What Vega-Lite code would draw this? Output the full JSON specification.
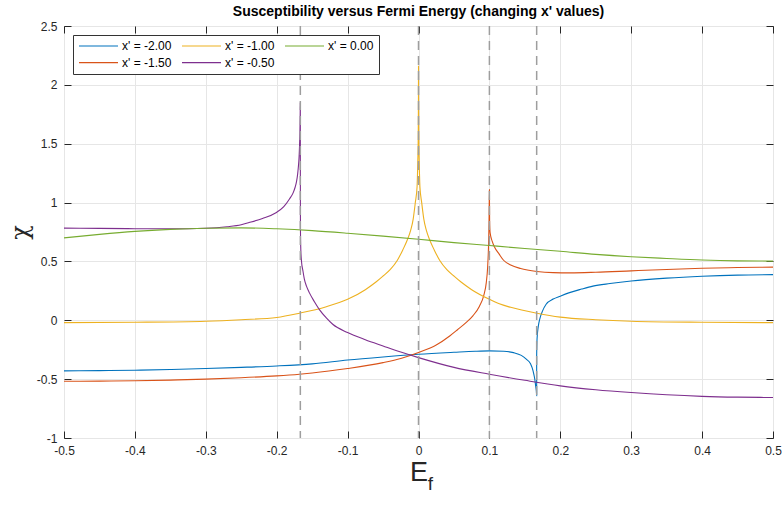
{
  "$schema": "https://vega.github.io/schema/vega-lite/v6.json",
  "width": 709,
  "height": 412,
  "autosize": "none",
  "padding": {"left": 64, "top": 26, "right": 11, "bottom": 69},
  "background": "white",
  "config": {
    "font": "Liberation Sans",
    "view": {"stroke": "#262626", "strokeWidth": 1}
  },
  "title": {"text": "Susceptibility versus Fermi Energy (changing x' values)", "fontSize": 14, "fontWeight": "bold", "color": "#000000", "font": "Liberation Sans", "offset": 1, "anchor": "middle"},
  "layer": [
    {
      "data": {"values": [
        {"s": "x' = -2.00", "x": -0.5, "y": -0.43},
        {"s": "x' = -2.00", "x": -0.45, "y": -0.428},
        {"s": "x' = -2.00", "x": -0.4, "y": -0.424},
        {"s": "x' = -2.00", "x": -0.35, "y": -0.418},
        {"s": "x' = -2.00", "x": -0.3, "y": -0.41},
        {"s": "x' = -2.00", "x": -0.25, "y": -0.4},
        {"s": "x' = -2.00", "x": -0.2, "y": -0.388},
        {"s": "x' = -2.00", "x": -0.15, "y": -0.37},
        {"s": "x' = -2.00", "x": -0.1, "y": -0.338},
        {"s": "x' = -2.00", "x": -0.05, "y": -0.312},
        {"s": "x' = -2.00", "x": 0, "y": -0.289},
        {"s": "x' = -2.00", "x": 0.05, "y": -0.272},
        {"s": "x' = -2.00", "x": 0.08, "y": -0.263},
        {"s": "x' = -2.00", "x": 0.1, "y": -0.26},
        {"s": "x' = -2.00", "x": 0.12, "y": -0.263},
        {"s": "x' = -2.00", "x": 0.134, "y": -0.275},
        {"s": "x' = -2.00", "x": 0.145, "y": -0.298},
        {"s": "x' = -2.00", "x": 0.152, "y": -0.33},
        {"s": "x' = -2.00", "x": 0.158, "y": -0.37},
        {"s": "x' = -2.00", "x": 0.1616, "y": -0.43},
        {"s": "x' = -2.00", "x": 0.164, "y": -0.5},
        {"s": "x' = -2.00", "x": 0.1653, "y": -0.56},
        {"s": "x' = -2.00", "x": 0.1662, "y": -0.6},
        {"s": "x' = -2.00", "x": 0.16667, "y": -0.64},
        {"s": "x' = -2.00", "x": 0.16668, "y": -0.3},
        {"s": "x' = -2.00", "x": 0.1672, "y": -0.16},
        {"s": "x' = -2.00", "x": 0.169, "y": -0.05},
        {"s": "x' = -2.00", "x": 0.171, "y": 0.01},
        {"s": "x' = -2.00", "x": 0.175, "y": 0.08},
        {"s": "x' = -2.00", "x": 0.18, "y": 0.136},
        {"s": "x' = -2.00", "x": 0.19, "y": 0.18},
        {"s": "x' = -2.00", "x": 0.2, "y": 0.205},
        {"s": "x' = -2.00", "x": 0.213, "y": 0.235},
        {"s": "x' = -2.00", "x": 0.23, "y": 0.265},
        {"s": "x' = -2.00", "x": 0.246, "y": 0.29},
        {"s": "x' = -2.00", "x": 0.27, "y": 0.312},
        {"s": "x' = -2.00", "x": 0.3, "y": 0.334},
        {"s": "x' = -2.00", "x": 0.35, "y": 0.358},
        {"s": "x' = -2.00", "x": 0.4, "y": 0.374},
        {"s": "x' = -2.00", "x": 0.45, "y": 0.384},
        {"s": "x' = -2.00", "x": 0.5, "y": 0.388},

        {"s": "x' = -1.50", "x": -0.5, "y": -0.518},
        {"s": "x' = -1.50", "x": -0.45, "y": -0.517},
        {"s": "x' = -1.50", "x": -0.4, "y": -0.514},
        {"s": "x' = -1.50", "x": -0.35, "y": -0.508},
        {"s": "x' = -1.50", "x": -0.3, "y": -0.5},
        {"s": "x' = -1.50", "x": -0.25, "y": -0.488},
        {"s": "x' = -1.50", "x": -0.2, "y": -0.472},
        {"s": "x' = -1.50", "x": -0.168, "y": -0.458},
        {"s": "x' = -1.50", "x": -0.15, "y": -0.448},
        {"s": "x' = -1.50", "x": -0.1, "y": -0.41},
        {"s": "x' = -1.50", "x": -0.05, "y": -0.36},
        {"s": "x' = -1.50", "x": -0.025, "y": -0.325},
        {"s": "x' = -1.50", "x": 0, "y": -0.274},
        {"s": "x' = -1.50", "x": 0.025, "y": -0.21},
        {"s": "x' = -1.50", "x": 0.044, "y": -0.133},
        {"s": "x' = -1.50", "x": 0.055, "y": -0.08},
        {"s": "x' = -1.50", "x": 0.067, "y": -0.02},
        {"s": "x' = -1.50", "x": 0.077, "y": 0.04},
        {"s": "x' = -1.50", "x": 0.086, "y": 0.12},
        {"s": "x' = -1.50", "x": 0.092, "y": 0.21},
        {"s": "x' = -1.50", "x": 0.0956, "y": 0.32},
        {"s": "x' = -1.50", "x": 0.0975, "y": 0.45},
        {"s": "x' = -1.50", "x": 0.0987, "y": 0.62},
        {"s": "x' = -1.50", "x": 0.0995, "y": 0.85},
        {"s": "x' = -1.50", "x": 0.1, "y": 1.11},
        {"s": "x' = -1.50", "x": 0.1003, "y": 0.85},
        {"s": "x' = -1.50", "x": 0.101, "y": 0.745},
        {"s": "x' = -1.50", "x": 0.104, "y": 0.67},
        {"s": "x' = -1.50", "x": 0.107, "y": 0.625},
        {"s": "x' = -1.50", "x": 0.114, "y": 0.56},
        {"s": "x' = -1.50", "x": 0.12, "y": 0.51},
        {"s": "x' = -1.50", "x": 0.13, "y": 0.47},
        {"s": "x' = -1.50", "x": 0.144, "y": 0.44},
        {"s": "x' = -1.50", "x": 0.167, "y": 0.415},
        {"s": "x' = -1.50", "x": 0.19, "y": 0.405},
        {"s": "x' = -1.50", "x": 0.214, "y": 0.403},
        {"s": "x' = -1.50", "x": 0.25, "y": 0.408},
        {"s": "x' = -1.50", "x": 0.3, "y": 0.42},
        {"s": "x' = -1.50", "x": 0.35, "y": 0.432},
        {"s": "x' = -1.50", "x": 0.4, "y": 0.442},
        {"s": "x' = -1.50", "x": 0.45, "y": 0.448},
        {"s": "x' = -1.50", "x": 0.5, "y": 0.452},

        {"s": "x' = -1.00", "x": -0.5, "y": -0.02},
        {"s": "x' = -1.00", "x": -0.4, "y": -0.017},
        {"s": "x' = -1.00", "x": -0.3, "y": -0.008},
        {"s": "x' = -1.00", "x": -0.25, "y": 0.005},
        {"s": "x' = -1.00", "x": -0.2, "y": 0.024},
        {"s": "x' = -1.00", "x": -0.168, "y": 0.06},
        {"s": "x' = -1.00", "x": -0.13, "y": 0.115},
        {"s": "x' = -1.00", "x": -0.1, "y": 0.178},
        {"s": "x' = -1.00", "x": -0.075, "y": 0.26},
        {"s": "x' = -1.00", "x": -0.06, "y": 0.325},
        {"s": "x' = -1.00", "x": -0.05, "y": 0.376},
        {"s": "x' = -1.00", "x": -0.04, "y": 0.43},
        {"s": "x' = -1.00", "x": -0.03, "y": 0.508},
        {"s": "x' = -1.00", "x": -0.022, "y": 0.6},
        {"s": "x' = -1.00", "x": -0.016, "y": 0.68},
        {"s": "x' = -1.00", "x": -0.011, "y": 0.765},
        {"s": "x' = -1.00", "x": -0.0075, "y": 0.86},
        {"s": "x' = -1.00", "x": -0.0045, "y": 1.0},
        {"s": "x' = -1.00", "x": -0.002, "y": 1.135},
        {"s": "x' = -1.00", "x": -0.001, "y": 1.35},
        {"s": "x' = -1.00", "x": -0.0004, "y": 1.55},
        {"s": "x' = -1.00", "x": -0.0001, "y": 1.85},
        {"s": "x' = -1.00", "x": 0, "y": 2.16},
        {"s": "x' = -1.00", "x": 0.0001, "y": 1.85},
        {"s": "x' = -1.00", "x": 0.0004, "y": 1.55},
        {"s": "x' = -1.00", "x": 0.001, "y": 1.35},
        {"s": "x' = -1.00", "x": 0.002, "y": 1.135},
        {"s": "x' = -1.00", "x": 0.0045, "y": 1.0},
        {"s": "x' = -1.00", "x": 0.0075, "y": 0.86},
        {"s": "x' = -1.00", "x": 0.011, "y": 0.765},
        {"s": "x' = -1.00", "x": 0.016, "y": 0.68},
        {"s": "x' = -1.00", "x": 0.022, "y": 0.6},
        {"s": "x' = -1.00", "x": 0.03, "y": 0.508},
        {"s": "x' = -1.00", "x": 0.04, "y": 0.43},
        {"s": "x' = -1.00", "x": 0.05, "y": 0.376},
        {"s": "x' = -1.00", "x": 0.06, "y": 0.325},
        {"s": "x' = -1.00", "x": 0.075, "y": 0.26},
        {"s": "x' = -1.00", "x": 0.1, "y": 0.178},
        {"s": "x' = -1.00", "x": 0.114, "y": 0.14},
        {"s": "x' = -1.00", "x": 0.13, "y": 0.11},
        {"s": "x' = -1.00", "x": 0.167, "y": 0.06},
        {"s": "x' = -1.00", "x": 0.2, "y": 0.027},
        {"s": "x' = -1.00", "x": 0.25, "y": 0.005},
        {"s": "x' = -1.00", "x": 0.3, "y": -0.008},
        {"s": "x' = -1.00", "x": 0.4, "y": -0.017},
        {"s": "x' = -1.00", "x": 0.5, "y": -0.02},

        {"s": "x' = -0.50", "x": -0.5, "y": 0.783},
        {"s": "x' = -0.50", "x": -0.45, "y": 0.781},
        {"s": "x' = -0.50", "x": -0.4, "y": 0.778},
        {"s": "x' = -0.50", "x": -0.35, "y": 0.777},
        {"s": "x' = -0.50", "x": -0.3, "y": 0.782},
        {"s": "x' = -0.50", "x": -0.27, "y": 0.795},
        {"s": "x' = -0.50", "x": -0.25, "y": 0.812},
        {"s": "x' = -0.50", "x": -0.239, "y": 0.83},
        {"s": "x' = -0.50", "x": -0.22, "y": 0.865},
        {"s": "x' = -0.50", "x": -0.201, "y": 0.914},
        {"s": "x' = -0.50", "x": -0.19, "y": 0.965},
        {"s": "x' = -0.50", "x": -0.182, "y": 1.03},
        {"s": "x' = -0.50", "x": -0.177, "y": 1.08},
        {"s": "x' = -0.50", "x": -0.174, "y": 1.13},
        {"s": "x' = -0.50", "x": -0.172, "y": 1.18},
        {"s": "x' = -0.50", "x": -0.1705, "y": 1.24},
        {"s": "x' = -0.50", "x": -0.1695, "y": 1.3},
        {"s": "x' = -0.50", "x": -0.1685, "y": 1.38},
        {"s": "x' = -0.50", "x": -0.1678, "y": 1.48},
        {"s": "x' = -0.50", "x": -0.1672, "y": 1.62},
        {"s": "x' = -0.50", "x": -0.1669, "y": 1.74},
        {"s": "x' = -0.50", "x": -0.16667, "y": 1.85},
        {"s": "x' = -0.50", "x": -0.16665, "y": 1.35},
        {"s": "x' = -0.50", "x": -0.1666, "y": 1.0},
        {"s": "x' = -0.50", "x": -0.1665, "y": 0.78},
        {"s": "x' = -0.50", "x": -0.166, "y": 0.6},
        {"s": "x' = -0.50", "x": -0.165, "y": 0.5},
        {"s": "x' = -0.50", "x": -0.163, "y": 0.42},
        {"s": "x' = -0.50", "x": -0.161, "y": 0.35},
        {"s": "x' = -0.50", "x": -0.158, "y": 0.29},
        {"s": "x' = -0.50", "x": -0.154, "y": 0.235},
        {"s": "x' = -0.50", "x": -0.147, "y": 0.16},
        {"s": "x' = -0.50", "x": -0.14, "y": 0.093},
        {"s": "x' = -0.50", "x": -0.13, "y": 0.02},
        {"s": "x' = -0.50", "x": -0.121, "y": -0.034},
        {"s": "x' = -0.50", "x": -0.1, "y": -0.104},
        {"s": "x' = -0.50", "x": -0.075, "y": -0.165},
        {"s": "x' = -0.50", "x": -0.05, "y": -0.218},
        {"s": "x' = -0.50", "x": -0.025, "y": -0.27},
        {"s": "x' = -0.50", "x": 0, "y": -0.317},
        {"s": "x' = -0.50", "x": 0.05, "y": -0.4},
        {"s": "x' = -0.50", "x": 0.1, "y": -0.458},
        {"s": "x' = -0.50", "x": 0.15, "y": -0.51},
        {"s": "x' = -0.50", "x": 0.2, "y": -0.557},
        {"s": "x' = -0.50", "x": 0.25, "y": -0.59},
        {"s": "x' = -0.50", "x": 0.3, "y": -0.614},
        {"s": "x' = -0.50", "x": 0.35, "y": -0.633},
        {"s": "x' = -0.50", "x": 0.4, "y": -0.646},
        {"s": "x' = -0.50", "x": 0.45, "y": -0.653},
        {"s": "x' = -0.50", "x": 0.5, "y": -0.656},

        {"s": "x' = 0.00", "x": -0.5, "y": 0.7},
        {"s": "x' = 0.00", "x": -0.45, "y": 0.73},
        {"s": "x' = 0.00", "x": -0.4, "y": 0.755},
        {"s": "x' = 0.00", "x": -0.35, "y": 0.772},
        {"s": "x' = 0.00", "x": -0.3, "y": 0.782},
        {"s": "x' = 0.00", "x": -0.25, "y": 0.785},
        {"s": "x' = 0.00", "x": -0.2, "y": 0.777},
        {"s": "x' = 0.00", "x": -0.15, "y": 0.762},
        {"s": "x' = 0.00", "x": -0.1, "y": 0.74},
        {"s": "x' = 0.00", "x": -0.05, "y": 0.715},
        {"s": "x' = 0.00", "x": 0, "y": 0.688},
        {"s": "x' = 0.00", "x": 0.05, "y": 0.66},
        {"s": "x' = 0.00", "x": 0.1, "y": 0.635},
        {"s": "x' = 0.00", "x": 0.15, "y": 0.61},
        {"s": "x' = 0.00", "x": 0.2, "y": 0.586},
        {"s": "x' = 0.00", "x": 0.25, "y": 0.56},
        {"s": "x' = 0.00", "x": 0.3, "y": 0.54},
        {"s": "x' = 0.00", "x": 0.35, "y": 0.525},
        {"s": "x' = 0.00", "x": 0.4, "y": 0.512},
        {"s": "x' = 0.00", "x": 0.45, "y": 0.505},
        {"s": "x' = 0.00", "x": 0.5, "y": 0.503}
      ]},
      "mark": {"type": "line", "strokeWidth": 1.1, "clip": true, "interpolate": "monotone"},
      "encoding": {
        "x": {
          "field": "x", "type": "quantitative",
          "scale": {"domain": [-0.5, 0.5], "nice": false, "zero": false},
          "axis": {
            "orient": "bottom",
            "values": [-0.5, -0.4, -0.3, -0.2, -0.1, 0, 0.1, 0.2, 0.3, 0.4, 0.5],
            "labelExpr": "'' + round(datum.value * 10) / 10",
            "grid": true, "gridColor": "#e6e6e6", "gridWidth": 1,
            "domain": false,
            "ticks": true, "tickSize": -7, "tickColor": "#262626", "tickWidth": 1,
            "labelPadding": 14, "labelFontSize": 12, "labelColor": "#262626", "labelFont": "Liberation Sans",
            "labelFlush": false,
            "title": "E", "titleFontSize": 27, "titleFontWeight": "normal", "titleColor": "#262626", "titleFont": "Liberation Sans",
            "titlePadding": 3
          }
        },
        "y": {
          "field": "y", "type": "quantitative",
          "scale": {"domain": [-1, 2.5], "nice": false, "zero": false},
          "axis": {
            "orient": "left",
            "values": [-1, -0.5, 0, 0.5, 1, 1.5, 2, 2.5],
            "labelExpr": "'' + round(datum.value * 10) / 10",
            "grid": true, "gridColor": "#e6e6e6", "gridWidth": 1,
            "domain": false,
            "ticks": true, "tickSize": -7, "tickColor": "#262626", "tickWidth": 1,
            "labelPadding": 14, "labelFontSize": 12, "labelColor": "#262626", "labelFont": "Liberation Sans",
            "labelFlush": false,
            "title": "χ", "titleFontSize": 24, "titleFontWeight": "normal", "titleColor": "#262626", "titleFont": "DejaVu Serif",
            "titlePadding": 4
          }
        },
        "color": {
          "field": "s", "type": "nominal",
          "scale": {
            "domain": ["x' = -2.00", "x' = -1.00", "x' = 0.00", "x' = -1.50", "x' = -0.50"],
            "range": ["#0072BD", "#EDB120", "#77AC30", "#D95319", "#7E2F8E"]
          },
          "legend": {
            "orient": "none", "legendX": 9, "legendY": 9,
            "title": null, "columns": 3, "direction": "horizontal",
            "symbolType": "stroke", "symbolSize": 1521, "symbolStrokeWidth": 1.2,
            "clipHeight": 12,
            "labelFontSize": 12, "labelFont": "Liberation Sans", "labelColor": "#000000", "labelOffset": 3, "labelLimit": 200,
            "columnPadding": 9, "rowPadding": 4.6, "padding": 5,
            "fillColor": "white", "strokeColor": "#333333"
          }
        }
      }
    },
    {
      "data": {"values": [{"xv": -0.16667}, {"xv": 0}, {"xv": 0.1}, {"xv": 0.16667}]},
      "mark": {"type": "rule", "strokeDash": [9, 6], "color": "#9e9e9e", "strokeWidth": 1.5},
      "encoding": {
        "x": {
          "field": "xv", "type": "quantitative",
          "axis": {
            "orient": "top", "values": [-0.5, -0.4, -0.3, -0.2, -0.1, 0, 0.1, 0.2, 0.3, 0.4, 0.5],
            "labels": false, "grid": false, "domain": false, "title": null,
            "ticks": true, "tickSize": -7, "tickColor": "#262626", "tickWidth": 1
          }
        }
      }
    },
    {
      "data": {"values": [{}]},
      "mark": {"type": "text", "text": "f", "fontSize": 19, "font": "Liberation Sans", "color": "#262626", "align": "left", "baseline": "middle"},
      "encoding": {
        "x": {"datum": 0.013, "type": "quantitative", "axis": null},
        "y": {
          "datum": -1.39, "type": "quantitative",
          "axis": {
            "orient": "right", "values": [-1, -0.5, 0, 0.5, 1, 1.5, 2, 2.5],
            "labels": false, "grid": false, "domain": false, "title": null,
            "ticks": true, "tickSize": -7, "tickColor": "#262626", "tickWidth": 1
          }
        }
      }
    }
  ],
  "resolve": {"axis": {"x": "independent", "y": "independent"}}
}
